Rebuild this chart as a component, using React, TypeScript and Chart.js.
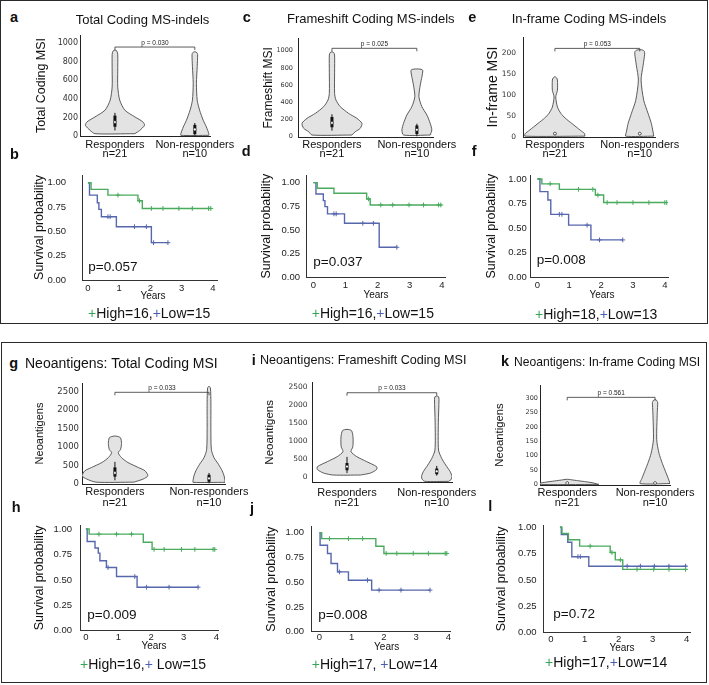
import React, { useEffect, useRef } from 'react';
import { Chart, registerables } from 'chart.js';

Chart.register(...registerables);

type Pt = [number, number];

const FONT = "'Liberation Sans', Arial, Helvetica, sans-serif";
const TICK_FONT = "'DejaVu Sans', 'Liberation Sans', sans-serif";
Chart.defaults.font.family = FONT;

// ---------------- DATA ----------------
const violinCategories = ['Responders', 'Non-responders'];
const violinCounts = ['n=21', 'n=10'];

// violin profiles: [value, half-width (category units)]
const aYTicks = [0, 200, 400, 600, 800, 1000];
const aResp: Pt[] = [[25, 0.25], [60, 0.31], [116, 0.37], [152, 0.35], [206, 0.25], [278, 0.125], [386, 0.06], [530, 0.035], [700, 0.035], [880, 0.035], [915, 0.025], [928, 0]];
const aNon: Pt[] = [[7, 0.175], [25, 0.175], [97, 0.145], [170, 0.105], [278, 0.06], [386, 0.03], [567, 0.02], [750, 0.03], [880, 0.035], [900, 0.025], [910, 0]];
const aRespBox = [60, 100, 150, 220, 250];
const aNonBox = [5, 20, 70, 120, 140];
const aP = 'p = 0.030';

const cYTicks = [0, 200, 400, 600, 800, 1000];
const cResp: Pt[] = [[19, 0.235], [58, 0.275], [97, 0.333], [155, 0.353], [213, 0.294], [271, 0.196], [349, 0.098], [426, 0.047], [504, 0.031], [750, 0.031], [950, 0.031], [978, 0.02], [988, 0]];
const cNon: Pt[] = [[19, 0.157], [78, 0.176], [155, 0.157], [252, 0.118], [349, 0.059], [465, 0.024], [600, 0.04], [700, 0.06], [765, 0.07], [780, 0.062], [786, 0.035], [788, 0]];
const cRespBox = [70, 110, 160, 230, 260];
const cNonBox = [5, 30, 80, 130, 150];
const cP = 'p = 0.025';

const eYTicks = [0, 50, 100, 150, 200];
const eResp: Pt[] = [[2, 0.353], [8, 0.35], [16, 0.3], [32, 0.2], [45, 0.12], [56, 0.07], [71, 0.03], [95, 0.01], [111, 0.03], [135, 0.03], [140, 0.02], [143, 0]];
const eNon: Pt[] = [[2, 0.165], [12, 0.157], [32, 0.137], [56, 0.098], [87, 0.047], [135, 0.016], [170, 0.04], [196, 0.058], [203, 0.055], [206, 0.035], [207, 0]];
const eRespBox = [4, 6, 8, 10, 12];
const eNonBox = [4, 6, 8, 10, 12];
const eP = 'p = 0.053';

const gYTicks = [0, 500, 1000, 1500, 2000, 2500];
const gResp: Pt[] = [[50, 0.2], [134, 0.3], [223, 0.35], [357, 0.32], [446, 0.25], [580, 0.14], [714, 0.07], [848, 0.035], [937, 0.06], [1100, 0.07], [1250, 0.06], [1285, 0.035], [1300, 0]];
const gNon: Pt[] = [[45, 0.17], [89, 0.17], [223, 0.16], [357, 0.14], [536, 0.1], [714, 0.053], [937, 0.025], [1500, 0.02], [2200, 0.02], [2600, 0.015], [2650, 0]];
const gRespBox = [100, 200, 300, 450, 600];
const gNonBox = [20, 60, 150, 250, 300];
const gP = 'p = 0.033';

const iYTicks = [0, 500, 1000, 1500, 2000, 2500];
const iResp: Pt[] = [[46, 0.15], [100, 0.26], [200, 0.33], [278, 0.33], [417, 0.22], [556, 0.11], [694, 0.045], [833, 0.065], [1100, 0.067], [1280, 0.05], [1315, 0]];
const iNon: Pt[] = [[-130, 0.13], [-80, 0.16], [0, 0.17], [139, 0.15], [324, 0.1], [509, 0.055], [740, 0.02], [1500, 0.018], [2150, 0.025], [2220, 0.02], [2240, 0]];
const iRespBox = [100, 180, 280, 380, 550];
const iNonBox = [30, 70, 150, 230, 300];
const iP = 'p = 0.033';

const kYTicks = [0, 50, 100, 150, 200, 250, 300];
const kResp: Pt[] = [[0, 0.36], [5, 0.3], [9, 0.22], [13, 0.12], [16, 0.05], [18, 0]];
const kNon: Pt[] = [[3, 0.17], [21, 0.15], [44, 0.12], [73, 0.083], [108, 0.045], [155, 0.019], [250, 0.025], [285, 0.03], [292, 0.02], [295, 0]];
const kRespBox = [2, 4, 5, 7, 10];
const kNonBox = [2, 4, 5, 7, 10];
const kP = 'p = 0.561';

// Kaplan-Meier: [years, survival]
const kmYTicks = [0, 0.25, 0.5, 0.75, 1];
const kmXTicks = [0, 1, 2, 3, 4];

const bHigh: Pt[] = [[0, 1], [0.1, 0.932], [0.64, 0.873], [1.6, 0.815], [1.74, 0.736], [3.95, 0.736]];
const bHighCensor: Pt[] = [[0.96, 0.873], [1.65, 0.815], [2.03, 0.736], [2.4, 0.736], [2.91, 0.736], [3.34, 0.736], [3.86, 0.736], [3.93, 0.736]];
const bLow: Pt[] = [[0, 1], [0.05, 0.873], [0.3, 0.795], [0.35, 0.726], [0.43, 0.651], [0.91, 0.548], [2.03, 0.384], [2.56, 0.384]];
const bLowCensor: Pt[] = [[0.64, 0.651], [0.71, 0.651], [1.49, 0.548], [1.87, 0.548], [2.1, 0.384], [2.56, 0.384]];
const bP = 'p=0.057';
const bLegend = ['High=16', ',', 'Low=15'];

const dHigh: Pt[] = [[0, 1], [0.12, 0.94], [0.64, 0.887], [1.66, 0.827], [1.77, 0.764], [4.0, 0.764]];
const dHighCensor: Pt[] = [[1.72, 0.827], [2.1, 0.764], [2.47, 0.764], [2.98, 0.764], [3.43, 0.764], [3.9, 0.764], [3.97, 0.764]];
const dLow: Pt[] = [[0, 1], [0.08, 0.88], [0.31, 0.81], [0.36, 0.746], [0.44, 0.67], [0.97, 0.57], [2.05, 0.317], [2.6, 0.317]];
const dLowCensor: Pt[] = [[0.64, 0.67], [0.71, 0.67], [1.54, 0.57], [1.87, 0.57], [2.6, 0.317]];
const dP = 'p=0.037';
const dLegend = ['High=16', ',', 'Low=15'];

const fHigh: Pt[] = [[0, 1], [0.14, 0.95], [0.69, 0.894], [1.82, 0.836], [2.08, 0.76], [4.06, 0.76]];
const fHighCensor: Pt[] = [[0.4, 0.95], [1.29, 0.894], [1.74, 0.894], [1.9, 0.836], [2.19, 0.76], [2.5, 0.76], [3.0, 0.76], [3.5, 0.76], [4.0, 0.76], [4.06, 0.76]];
const fLow: Pt[] = [[0, 1], [0.08, 0.871], [0.33, 0.786], [0.42, 0.64], [0.98, 0.53], [1.68, 0.38], [2.68, 0.38]];
const fLowCensor: Pt[] = [[0.69, 0.64], [0.77, 0.64], [1.56, 0.53], [1.95, 0.38], [2.68, 0.38]];
const fP = 'p=0.008';
const fLegend = ['High=18', ',', 'Low=13'];

const hHigh: Pt[] = [[0, 1], [0.1, 0.95], [1.76, 0.87], [2.03, 0.8], [3.95, 0.8]];
const hHighCensor: Pt[] = [[0.4, 0.95], [0.94, 0.95], [1.4, 0.95], [2.09, 0.8], [2.4, 0.8], [2.93, 0.8], [3.34, 0.8], [3.9, 0.8], [3.95, 0.8]];
const hLow: Pt[] = [[0, 1], [0.04, 0.878], [0.28, 0.813], [0.38, 0.763], [0.43, 0.688], [0.63, 0.622], [0.94, 0.533], [1.57, 0.428], [3.44, 0.428]];
const hLowCensor: Pt[] = [[0.68, 0.622], [1.5, 0.533], [1.86, 0.428], [2.55, 0.428], [3.44, 0.428]];
const hP = 'p=0.009';
const hLegend = ['High=16', ',', ' Low=15'];

const jHigh: Pt[] = [[0, 1], [0.07, 0.94], [1.75, 0.862], [2.0, 0.79], [3.95, 0.79]];
const jHighCensor: Pt[] = [[0.31, 0.94], [0.9, 0.94], [1.34, 0.94], [2.07, 0.79], [2.4, 0.79], [2.91, 0.79], [3.38, 0.79], [3.9, 0.79], [3.95, 0.79]];
const jLow: Pt[] = [[0, 1], [0.02, 0.872], [0.25, 0.789], [0.36, 0.688], [0.56, 0.604], [0.9, 0.52], [1.62, 0.42], [3.43, 0.42]];
const jLowCensor: Pt[] = [[0.62, 0.604], [1.49, 0.52], [1.85, 0.42], [2.53, 0.42], [3.43, 0.42]];
const jP = 'p=0.008';
const jLegend = ['High=17', ', ', 'Low=14'];

const lHigh: Pt[] = [[0.27, 1], [0.33, 0.94], [0.52, 0.88], [0.85, 0.82], [1.75, 0.76], [1.9, 0.69], [2.12, 0.6], [4.0, 0.6]];
const lHighCensor: Pt[] = [[1.16, 0.82], [1.8, 0.76], [2.05, 0.69], [2.54, 0.6], [3.03, 0.6], [3.48, 0.6], [3.97, 0.6]];
const lLow: Pt[] = [[0.27, 1], [0.31, 0.93], [0.5, 0.857], [0.62, 0.72], [1.12, 0.63], [4.0, 0.63]];
const lLowCensor: Pt[] = [[0.8, 0.72], [0.87, 0.72], [2.25, 0.63], [2.64, 0.63], [3.05, 0.63], [3.48, 0.63], [3.97, 0.63]];
const lP = 'p=0.72';
const lLegend = ['High=17', ',', 'Low=14'];

// ---------------- STYLE / LAYOUT ----------------
const GREEN = '#4aab5e';
const BLUE = '#5767ad';
const LEG_GREEN = '#34a556';
const LEG_BLUE = '#4a5fb3';

interface Axis { left: number; top: number; right: number; bottom: number }
interface Rect { x: number; y: number; w: number; h: number }

interface ViolinSpec {
  axis: Axis; xr: [number, number]; yr: [number, number]; yTicks: number[];
  tickSize: number; tickPad: number; yTitle: string; yTitleSize: number; yTitleX: number;
  resp: Pt[]; non: Pt[]; respBox: number[]; nonBox: number[];
  bracket: number; p: string; catPad: number; catLH: number;
}

interface KMSpec {
  axis: Axis; xr: [number, number]; yr: [number, number]; tickPad: number; xTickPad: number; yTitleX: number;
  high: Pt[]; highC: Pt[]; low: Pt[]; lowC: Pt[];
}

const violins: ViolinSpec[] = [
  { axis: { left: 80, top: 35, right: 210, bottom: 136 }, xr: [0.5625, 2.19], yr: [0, 1090], yTicks: aYTicks, tickSize: 8, tickPad: 2,
    yTitle: 'Total Coding MSI', yTitleSize: 12.5, yTitleX: 42, resp: aResp, non: aNon, respBox: aRespBox, nonBox: aNonBox, bracket: 960, p: aP, catPad: 4.3, catLH: 0.85 },
  { axis: { left: 298, top: 38, right: 433, bottom: 137.7 }, xr: [0.6, 2.19], yr: [-12, 1148], yTicks: cYTicks, tickSize: 6.5, tickPad: 5,
    yTitle: 'Frameshift MSI', yTitleSize: 12, yTitleX: 268.3, resp: cResp, non: cNon, respBox: cRespBox, nonBox: cNonBox, bracket: 1028, p: cP, catPad: 3.1, catLH: 0.82 },
  { axis: { left: 523, top: 37, right: 655, bottom: 137 }, xr: [0.624, 2.18], yr: [0, 237], yTicks: eYTicks, tickSize: 7.5, tickPad: 7,
    yTitle: 'In-frame MSI', yTitleSize: 14, yTitleX: 493.3, resp: eResp, non: eNon, respBox: eRespBox, nonBox: eNonBox, bracket: 210, p: eP, catPad: 3.3, catLH: 0.85 },
  { axis: { left: 82, top: 383, right: 225, bottom: 484 }, xr: [0.65, 2.17], yr: [0, 2737], yTicks: gYTicks, tickSize: 8.5, tickPad: 3,
    yTitle: 'Neoantigens', yTitleSize: 11, yTitleX: 40, resp: gResp, non: gNon, respBox: gRespBox, nonBox: gNonBox, bracket: 2485, p: gP, catPad: 1.9, catLH: 1.05 },
  { axis: { left: 312, top: 382, right: 452, bottom: 482.7 }, xr: [0.61, 2.17], yr: [-167, 2631], yTicks: iYTicks, tickSize: 7.5, tickPad: 4.5,
    yTitle: 'Neoantigens', yTitleSize: 11.5, yTitleX: 270, resp: iResp, non: iNon, respBox: iRespBox, nonBox: iNonBox, bracket: 2333, p: iP, catPad: 5.3, catLH: 0.91 },
  { axis: { left: 540, top: 385, right: 670, bottom: 485 }, xr: [0.69, 2.17], yr: [-2, 346], yTicks: kYTicks, tickSize: 6.5, tickPad: 2,
    yTitle: 'Neoantigens', yTitleSize: 11.3, yTitleX: 500, resp: kResp, non: kNon, respBox: kRespBox, nonBox: kNonBox, bracket: 303, p: kP, catPad: 3.3, catLH: 0.91 },
];

const kms: KMSpec[] = [
  { axis: { left: 82, top: 175, right: 217, bottom: 280 }, xr: [-0.19, 4.13], yr: [0, 1.08], tickPad: 16, xTickPad: 2.3, yTitleX: 39.3, high: bHigh, highC: bHighCensor, low: bLow, lowC: bLowCensor },
  { axis: { left: 306, top: 175, right: 445, bottom: 277.3 }, xr: [-0.23, 4.1], yr: [0, 1.08], tickPad: 6, xTickPad: 2.3, yTitleX: 266.7, high: dHigh, highC: dHighCensor, low: dLow, lowC: dLowCensor },
  { axis: { left: 530.7, top: 175, right: 668, bottom: 277.3 }, xr: [-0.21, 4.1], yr: [0, 1.04], tickPad: 4, xTickPad: 2.3, yTitleX: 491.7, high: fHigh, highC: fHighCensor, low: fLow, lowC: fLowCensor },
  { axis: { left: 80, top: 525, right: 218, bottom: 630.7 }, xr: [-0.18, 4.05], yr: [0, 1.04], tickPad: 8, xTickPad: 0.6, yTitleX: 39.3, high: hHigh, highC: hHighCensor, low: hLow, lowC: hLowCensor },
  { axis: { left: 311.7, top: 526.7, right: 450, bottom: 631.7 }, xr: [-0.24, 4.05], yr: [0, 1.06], tickPad: 7.7, xTickPad: 0.2, yTitleX: 271.7, high: jHigh, highC: jHighCensor, low: jLow, lowC: jLowCensor },
  { axis: { left: 543.3, top: 525, right: 690, bottom: 632.7 }, xr: [-0.22, 4.1], yr: [0, 1.02], tickPad: 6.7, xTickPad: 1.2, yTitleX: 501.7, high: lHigh, highC: lHighCensor, low: lLow, lowC: lLowCensor },
];

// ---------------- CHART BUILDERS ----------------
const toXY = (a: Pt[]) => a.map(([x, y]) => ({ x, y }));

function violinShape(profile: Pt[], c: number) {
  const right = profile.map(([v, w]) => ({ x: c + w, y: v }));
  const left = profile.slice().reverse().map(([v, w]) => ({ x: c - w, y: v }));
  const pts = [...right, ...left.slice(1)];
  pts.push({ ...pts[0] });
  return pts;
}

function boxDatasets(b: number[], c: number) {
  return [
    { data: [{ x: c, y: b[2] }], showLine: false, pointRadius: 1.4, pointBackgroundColor: '#ffffff', pointBorderColor: '#111', pointBorderWidth: 0.5 },
    { data: [{ x: c, y: b[1] }, { x: c, y: b[3] }], showLine: true, borderColor: '#111', borderWidth: 3, pointRadius: 0, borderCapStyle: 'butt' },
    { data: [{ x: c, y: b[0] }, { x: c, y: b[4] }], showLine: true, borderColor: '#111', borderWidth: 1, pointRadius: 0 },
  ];
}

function violinDataset(profile: Pt[], c: number) {
  return { data: violinShape(profile, c), showLine: true, fill: 'shape', backgroundColor: '#e3e3e3', borderColor: '#4a4a4a', borderWidth: 0.9, pointRadius: 0, tension: 0.25 };
}

function bracketPlugin(yVal: number, text: string) {
  return {
    id: 'bracket',
    afterDatasetsDraw(chart: any) {
      const { ctx, scales } = chart;
      const x1 = scales.x.getPixelForValue(1);
      const x2 = scales.x.getPixelForValue(2);
      const yy = scales.y.getPixelForValue(yVal);
      ctx.save();
      ctx.strokeStyle = '#333';
      ctx.lineWidth = 0.8;
      ctx.beginPath();
      ctx.moveTo(x1, yy + 3);
      ctx.lineTo(x1, yy);
      ctx.lineTo(x2, yy);
      ctx.lineTo(x2, yy + 3);
      ctx.stroke();
      ctx.fillStyle = '#222';
      ctx.font = `6.5px ${FONT}`;
      ctx.textAlign = 'center';
      ctx.textBaseline = 'alphabetic';
      ctx.fillText(text, (x1 + x2) / 2, yy - 2.5);
      ctx.restore();
    },
  };
}

const TOP_ROOM = 26;

function violinRect(s: ViolinSpec): Rect {
  const x = Math.floor(s.yTitleX - 10);
  const y = Math.floor(s.axis.top - TOP_ROOM);
  return { x, y, w: Math.ceil(s.axis.right + 60 - x), h: Math.ceil(s.axis.bottom + 30 - y) };
}

function kmRect(s: KMSpec): Rect {
  const x = Math.floor(s.yTitleX - 10);
  const y = Math.floor(s.axis.top - TOP_ROOM);
  return { x, y, w: Math.ceil(s.axis.right + 12 - x), h: Math.ceil(s.axis.bottom + 28 - y) };
}

function violinConfig(s: ViolinSpec, r: Rect): any {
  const lhT = s.yTitleSize * 1.2;
  return {
    type: 'scatter',
    data: {
      datasets: [
        ...boxDatasets(s.respBox, 1),
        ...boxDatasets(s.nonBox, 2),
        violinDataset(s.resp, 1),
        violinDataset(s.non, 2),
      ],
    },
    options: {
      responsive: false,
      animation: false,
      events: [],
      layout: { padding: { left: 0, top: s.axis.top - r.y, right: r.x + r.w - s.axis.right, bottom: 0 } },
      plugins: { legend: { display: false }, tooltip: { enabled: false } },
      scales: {
        x: {
          type: 'linear', min: s.xr[0], max: s.xr[1],
          afterBuildTicks: (sc: any) => { sc.ticks = [{ value: 1 }, { value: 2 }]; },
          afterFit: (sc: any) => { sc.height = r.y + r.h - s.axis.bottom; },
          ticks: {
            callback: (v: number) => (v === 1 ? [violinCategories[0], violinCounts[0]] : [violinCategories[1], violinCounts[1]]),
            font: { family: FONT, size: 11, lineHeight: s.catLH }, color: '#111', padding: s.catPad,
            maxRotation: 0, minRotation: 0, autoSkip: false,
          },
          grid: { display: false, drawTicks: false },
          border: { display: true, color: '#222', width: 1 },
        },
        y: {
          type: 'linear', min: s.yr[0], max: s.yr[1],
          afterBuildTicks: (sc: any) => { sc.ticks = s.yTicks.map((v) => ({ value: v })); },
          afterFit: (sc: any) => { sc.width = s.axis.left - r.x; },
          ticks: { callback: (v: number) => String(v), font: { family: TICK_FONT, size: s.tickSize }, color: '#333', padding: s.tickPad },
          grid: { display: false, drawTicks: false },
          border: { display: true, color: '#222', width: 1 },
          title: { display: true, text: s.yTitle, font: { family: FONT, size: s.yTitleSize }, color: '#111', padding: { top: s.yTitleX - r.x - lhT / 2, bottom: 0 } },
        },
      },
    },
    plugins: [bracketPlugin(s.bracket, s.p)],
  };
}

function kmConfig(s: KMSpec, r: Rect): any {
  const titleSize = 12.5;
  const lhT = titleSize * 1.2;
  const censor = (pts: Pt[], color: string) => ({
    data: toXY(pts), showLine: false, pointStyle: 'cross', pointRadius: 2.4,
    pointBorderColor: color, pointBackgroundColor: color, pointBorderWidth: 1,
  });
  const curve = (pts: Pt[], color: string) => ({
    data: toXY(pts), showLine: true, stepped: true, borderColor: color, borderWidth: 1.4, pointRadius: 0,
  });
  return {
    type: 'scatter',
    data: { datasets: [censor(s.highC, GREEN), censor(s.lowC, BLUE), curve(s.high, GREEN), curve(s.low, BLUE)] },
    options: {
      responsive: false,
      animation: false,
      events: [],
      layout: { padding: { left: 0, top: s.axis.top - r.y, right: r.x + r.w - s.axis.right, bottom: 0 } },
      plugins: { legend: { display: false }, tooltip: { enabled: false } },
      scales: {
        x: {
          type: 'linear', min: s.xr[0], max: s.xr[1],
          afterBuildTicks: (sc: any) => { sc.ticks = kmXTicks.map((v) => ({ value: v })); },
          afterFit: (sc: any) => { sc.height = r.y + r.h - s.axis.bottom; },
          ticks: { callback: (v: number) => String(v), font: { family: FONT, size: 9.5 }, color: '#222', padding: s.xTickPad, maxRotation: 0, autoSkip: false },
          grid: { display: false, drawTicks: false },
          border: { display: true, color: '#333', width: 1 },
        },
        y: {
          type: 'linear', min: s.yr[0], max: s.yr[1],
          afterBuildTicks: (sc: any) => { sc.ticks = kmYTicks.map((v) => ({ value: v })); },
          afterFit: (sc: any) => { sc.width = s.axis.left - r.x; },
          ticks: { callback: (v: number) => Number(v).toFixed(2), font: { family: FONT, size: 9.5 }, color: '#222', padding: s.tickPad },
          grid: { display: false, drawTicks: false },
          border: { display: true, color: '#333', width: 1 },
          title: { display: true, text: 'Survival probability', font: { family: FONT, size: titleSize }, color: '#111', padding: { top: s.yTitleX - r.x - lhT / 2, bottom: 0 } },
        },
      },
    },
  };
}

// ---------------- TEXT LAYOUT ----------------
const letters = [
  { t: 'a', x: 10, y: 22.7 }, { t: 'b', x: 10, y: 159.3 }, { t: 'c', x: 242.7, y: 22.7 }, { t: 'd', x: 241.7, y: 156.7 },
  { t: 'e', x: 468.3, y: 22.7 }, { t: 'f', x: 471.7, y: 156.7 }, { t: 'g', x: 9.3, y: 368.3 }, { t: 'h', x: 11.7, y: 512.7 },
  { t: 'i', x: 251.7, y: 365 }, { t: 'j', x: 250, y: 513 }, { t: 'k', x: 501, y: 366 }, { t: 'l', x: 488.3, y: 511.7 },
];
const titles = [
  { t: 'Total Coding MS-indels', x: 142.5, y: 24, size: 13, align: 'center' },
  { t: 'Frameshift Coding MS-indels', x: 370.8, y: 22.7, size: 13, align: 'center' },
  { t: 'In-frame Coding MS-indels', x: 589, y: 23.3, size: 13, align: 'center' },
  { t: 'Neoantigens: Total Coding MSI', x: 25, y: 368.3, size: 14, align: 'left' },
  { t: 'Neoantigens: Frameshift Coding MSI', x: 260, y: 365, size: 12.6, align: 'left' },
  { t: 'Neoantigens: In-frame Coding MSI', x: 514, y: 366, size: 12.1, align: 'left' },
];
const kmTexts = [
  { p: bP, px: 88.3, py: 271, years: [153, 299.3], legend: bLegend, lx: 88, ly: 318.3 },
  { p: dP, px: 313.3, py: 266, years: [376, 298.3], legend: dLegend, lx: 311.7, ly: 318.3 },
  { p: fP, px: 536.7, py: 264, years: [602, 298.3], legend: fLegend, lx: 535, ly: 319.3 },
  { p: hP, px: 87.3, py: 619, years: [154, 649.3], legend: hLegend, lx: 80, ly: 669.3 },
  { p: jP, px: 318.3, py: 619, years: [386.7, 650], legend: jLegend, lx: 311.7, ly: 669.3 },
  { p: lP, px: 553.3, py: 618.3, years: [622, 651.7], legend: lLegend, lx: 545, ly: 667.3 },
];

// ---------------- COMPONENTS ----------------
function ChartBox({ rect, make }: { rect: Rect; make: () => any }) {
  const ref = useRef<HTMLCanvasElement>(null);
  useEffect(() => {
    const chart = new Chart(ref.current as HTMLCanvasElement, make());
    return () => chart.destroy();
  }, []);
  return (
    <canvas ref={ref} width={rect.w} height={rect.h}
      style={{ position: 'absolute', left: rect.x, top: rect.y, width: rect.w, height: rect.h }} />
  );
}

function Txt({ x, y, size, bold, align, children }: { x: number; y: number; size: number; bold?: boolean; align?: string; children: any }) {
  return (
    <div style={{
      position: 'absolute', left: x, top: y - 0.8465 * size, fontSize: size, lineHeight: 1, fontFamily: FONT,
      fontWeight: bold ? 'bold' : 'normal', whiteSpace: 'pre', color: '#111',
      transform: align === 'center' ? 'translateX(-50%)' : undefined,
    }}>{children}</div>
  );
}

export default function App() {
  return (
    <div style={{ position: 'absolute', left: 0, top: 0, width: 709, height: 685, background: '#fff', overflow: 'hidden' }}>
      <div style={{ position: 'absolute', left: 0, top: 0, width: 708, height: 324, border: '1.5px solid #2a2a2a', boxSizing: 'border-box' }} />
      <div style={{ position: 'absolute', left: 1, top: 342, width: 706, height: 341, border: '1.5px solid #2a2a2a', boxSizing: 'border-box' }} />
      {violins.map((s, i) => {
        const r = violinRect(s);
        return <ChartBox key={'v' + i} rect={r} make={() => violinConfig(s, r)} />;
      })}
      {kms.map((s, i) => {
        const r = kmRect(s);
        return <ChartBox key={'k' + i} rect={r} make={() => kmConfig(s, r)} />;
      })}
      {letters.map((l) => <Txt key={l.t} x={l.x} y={l.y} size={14.5} bold>{l.t}</Txt>)}
      {titles.map((t) => <Txt key={t.t} x={t.x} y={t.y} size={t.size} align={t.align}>{t.t}</Txt>)}
      {kmTexts.map((k, i) => (
        <React.Fragment key={'t' + i}>
          <Txt x={k.px} y={k.py} size={13.5}>{k.p}</Txt>
          <Txt x={k.years[0]} y={k.years[1]} size={10} align="center">Years</Txt>
          <Txt x={k.lx} y={k.ly} size={14}>
            <span style={{ color: LEG_GREEN }}>+</span>{k.legend[0]}{k.legend[1]}<span style={{ color: LEG_BLUE }}>+</span>{k.legend[2]}
          </Txt>
        </React.Fragment>
      ))}
    </div>
  );
}
